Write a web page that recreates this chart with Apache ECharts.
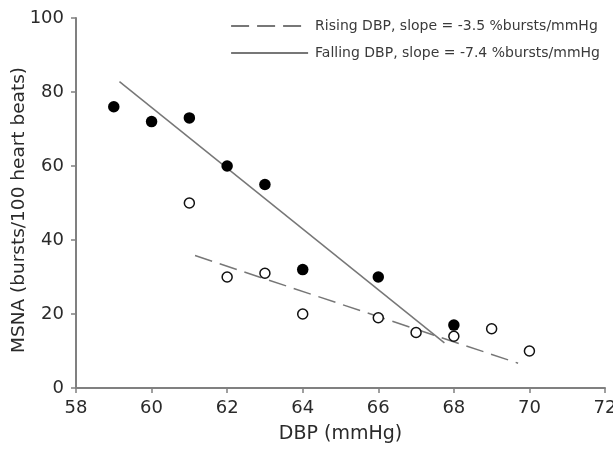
<!DOCTYPE html>
<html><head><meta charset="utf-8">
<script src="https://cdn.jsdelivr.net/npm/echarts@6/dist/echarts.min.js"></script>
<style>html,body{margin:0;padding:0;background:#fff}#c{width:613px;height:449px}</style>
</head><body><div id="c"></div>
<script>
// Falling DBP (filled circles)
const fallingX = [59, 60, 61, 62, 63, 64, 66, 68];
const fallingY = [76, 72, 73, 60, 55, 32, 30, 17];
// Rising DBP (open circles)
const risingX = [61, 62, 63, 64, 66, 67, 68, 69, 70];
const risingY = [50, 30, 31, 20, 19, 15, 14, 16, 10];
// Regression line endpoints
const fallingFitX = [59.15, 67.75];
const fallingFitY = [82.8, 12.2];
const risingFitX = [61.15, 69.7];
const risingFitY = [35.8, 6.7];
const xTicks = [58, 60, 62, 64, 66, 68, 70, 72];
const yTicks = [0, 20, 40, 60, 80, 100];
const legendNames = ['Rising DBP, slope = -3.5 %bursts/mmHg', 'Falling DBP, slope = -7.4 %bursts/mmHg'];

const zip = (a, b) => a.map((v, i) => [v, b[i]]);
const font = 'DejaVu Sans, sans-serif';
const axisCol = '#808080';
const txtCol = '#2a2a2a';

const chart = echarts.init(document.getElementById('c'));
chart.setOption({
  animation: false,
  backgroundColor: '#fff',
  grid: { left: 76, right: 8, top: 18, bottom: 61, containLabel: false, outerBoundsMode: 'none' },
  legend: {
    orient: 'vertical', right: 8, top: 14, itemGap: 13,
    itemWidth: 77, itemHeight: 14,
    itemStyle: { opacity: 0 },
    textStyle: { fontFamily: font, fontSize: 14, color: '#3a3a3a', padding: [0, 0, 0, 2] },
    data: legendNames
  },
  xAxis: {
    type: 'value', min: xTicks[0], max: xTicks[xTicks.length - 1], interval: 2,
    name: 'DBP (mmHg)', nameLocation: 'middle', nameGap: 37, nameMoveOverlap: false,
    nameTextStyle: { fontFamily: font, fontSize: 19, color: txtCol },
    axisLine: { show: true, onZero: false, lineStyle: { color: axisCol, width: 2 } },
    axisTick: { show: true, length: 5, lineStyle: { color: axisCol, width: 1.5 } },
    axisLabel: { fontFamily: font, fontSize: 18, color: txtCol, margin: 11 },
    splitLine: { show: false }
  },
  yAxis: {
    type: 'value', min: yTicks[0], max: yTicks[yTicks.length - 1], interval: 20,
    name: 'MSNA (bursts/100 heart beats)', nameLocation: 'middle', nameGap: 47, nameMoveOverlap: false,
    nameTextStyle: { fontFamily: font, fontSize: 18.5, color: txtCol, padding: [0, 14, 0, 0] },
    axisLine: { show: true, onZero: false, lineStyle: { color: axisCol, width: 2 } },
    axisTick: { show: true, length: 5, lineStyle: { color: axisCol, width: 1.5 } },
    axisLabel: { fontFamily: font, fontSize: 18, color: txtCol, margin: 12 },
    splitLine: { show: false }
  },
  series: [
    {
      name: legendNames[0], type: 'line', data: zip(risingFitX, risingFitY),
      symbol: 'none', lineStyle: { color: '#777', width: 1.5, type: [18, 8] },
      itemStyle: { color: '#777' }, z: 2
    },
    {
      name: legendNames[1], type: 'line', data: zip(fallingFitX, fallingFitY),
      symbol: 'none', lineStyle: { color: '#777', width: 1.5 },
      itemStyle: { color: '#777' }, z: 2
    },
    {
      name: 'falling', type: 'scatter', data: zip(fallingX, fallingY),
      symbol: 'circle', symbolSize: 11.5, itemStyle: { color: '#000', opacity: 1 }, z: 3
    },
    {
      name: 'rising', type: 'scatter', data: zip(risingX, risingY),
      symbol: 'circle', symbolSize: 10,
      itemStyle: { color: '#fff', borderColor: '#111', borderWidth: 1.5, opacity: 1 }, z: 3
    }
  ]
});
</script></body></html>
